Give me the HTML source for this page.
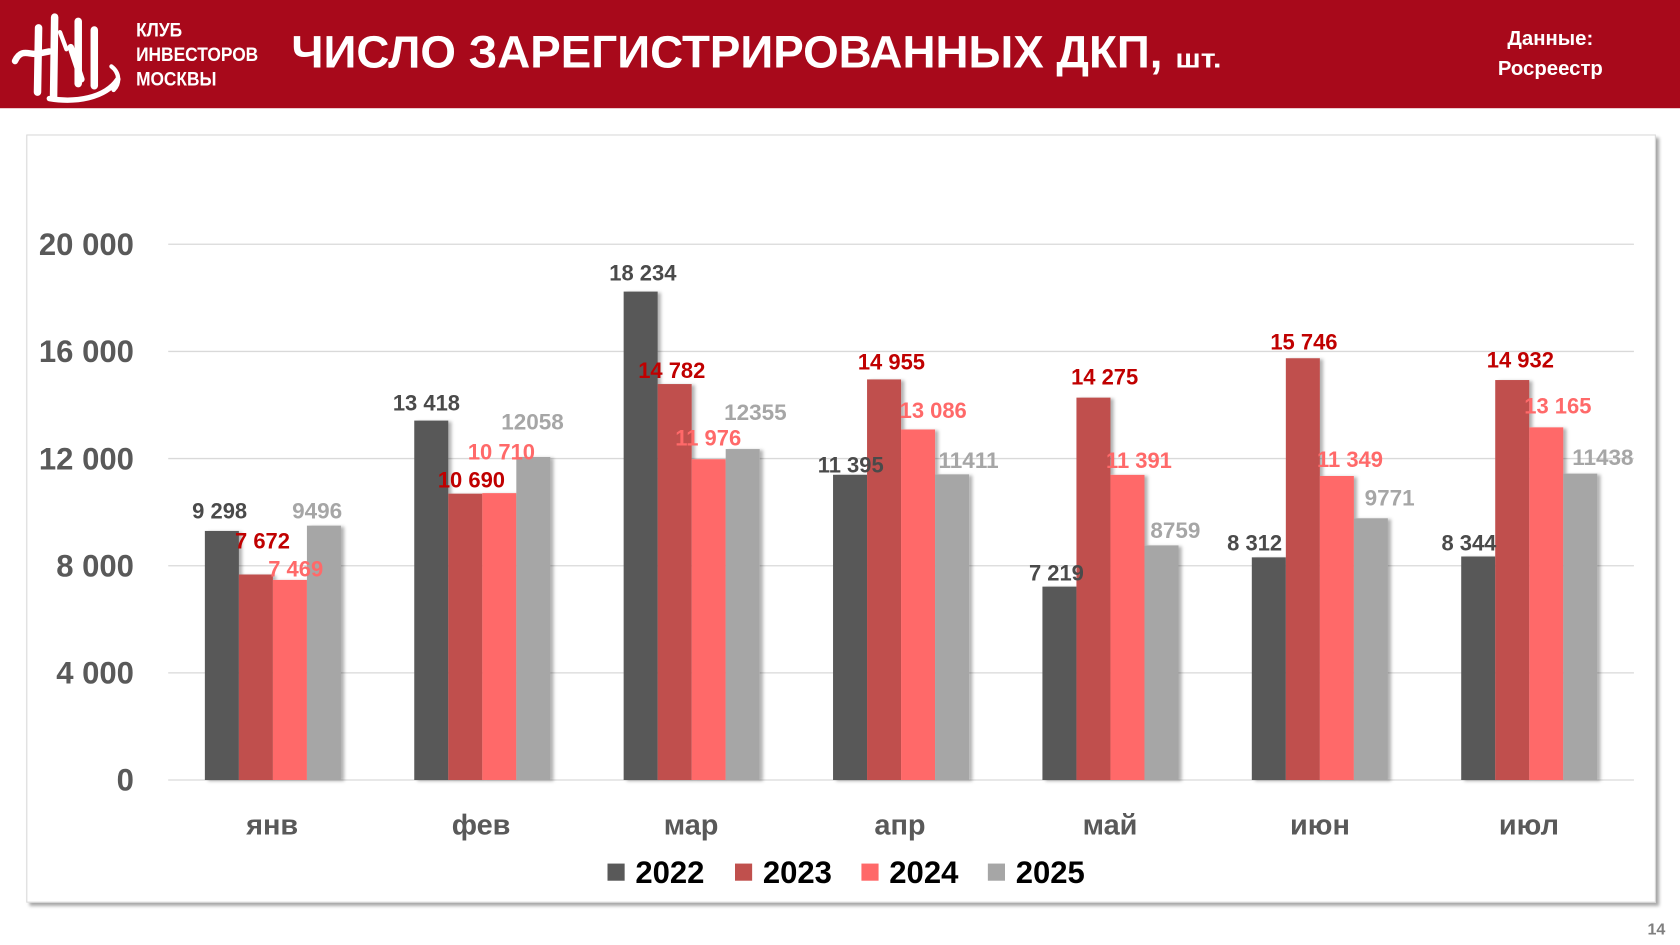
<!DOCTYPE html>
<html>
<head>
<meta charset="utf-8">
<style>
html,body{margin:0;padding:0;background:#fff;}
svg{display:block;}
text{font-family:"Liberation Sans","DejaVu Sans",sans-serif;}
</style>
</head>
<body>
<svg width="1680" height="945" viewBox="0 0 1568 882" preserveAspectRatio="none" xmlns="http://www.w3.org/2000/svg">
<defs>
  <filter id="sh" x="-20%" y="-5%" width="140%" height="110%">
    <feDropShadow dx="3" dy="1" stdDeviation="1.5" flood-color="#000" flood-opacity="0.3"/>
  </filter>
  <filter id="box" x="-2%" y="-2%" width="104%" height="104%">
    <feDropShadow dx="3" dy="3" stdDeviation="1.5" flood-color="#000" flood-opacity="0.35"/>
  </filter>
</defs>

<!-- header -->
<rect x="0" y="0" width="1568" height="101" fill="#A8091B"/>
<!-- logo (approximate monogram) -->
<g fill="none" stroke="#fff" stroke-linecap="round">
  <path d="M14 57 C20 44 28 52 36 50 L46 48" stroke-width="6"/>
  <path d="M36 26 L35 86" stroke-width="7"/>
  <path d="M51 16 L50 90" stroke-width="7"/>
  <path d="M56 30 L62 46" stroke-width="4"/>
  <path d="M66 44 L76 74" stroke-width="6"/>
  <path d="M73 20 L73 78" stroke-width="7"/>
  <path d="M88 28 L88 80" stroke-width="7"/>
  <path d="M46 92 C70 96 98 92 110 74" stroke-width="5"/>
  <path d="M104 62 C112 68 112 78 106 84" stroke-width="4"/>
</g>
<text x="127" y="34" font-size="18" font-weight="bold" fill="#fff" textLength="43" lengthAdjust="spacingAndGlyphs">КЛУБ</text>
<text x="127" y="57" font-size="18" font-weight="bold" fill="#fff" textLength="114" lengthAdjust="spacingAndGlyphs">ИНВЕСТОРОВ</text>
<text x="127" y="80" font-size="18" font-weight="bold" fill="#fff" textLength="75" lengthAdjust="spacingAndGlyphs">МОСКВЫ</text>
<text x="272" y="63" font-size="42" font-weight="bold" fill="#fff" textLength="813" lengthAdjust="spacingAndGlyphs">ЧИСЛО ЗАРЕГИСТРИРОВАННЫХ ДКП,</text>
<text x="1097" y="63" font-size="24" font-weight="bold" fill="#fff" textLength="43" lengthAdjust="spacingAndGlyphs">шт.</text>
<text x="1447" y="42" font-size="19" font-weight="bold" fill="#fff" text-anchor="middle">Данные:</text>
<text x="1447" y="70" font-size="19" font-weight="bold" fill="#fff" text-anchor="middle">Росреестр</text>

<!-- chart box -->
<rect x="25" y="126" width="1520" height="716" fill="#fff" stroke="#d9d9d9" stroke-width="1" filter="url(#box)"/>

<!-- gridlines -->
<g stroke="#d9d9d9" stroke-width="1.2">
  <line x1="157" y1="228" x2="1525" y2="228"/>
  <line x1="157" y1="328" x2="1525" y2="328"/>
  <line x1="157" y1="428" x2="1525" y2="428"/>
  <line x1="157" y1="528" x2="1525" y2="528"/>
  <line x1="157" y1="628" x2="1525" y2="628"/>
  <line x1="157" y1="728" x2="1525" y2="728"/>
</g>

<!-- y labels -->
<g font-size="29" font-weight="bold" fill="#595959" text-anchor="end">
  <text x="125" y="238">20 000</text>
  <text x="125" y="338">16 000</text>
  <text x="125" y="438">12 000</text>
  <text x="125" y="538">8 000</text>
  <text x="125" y="638">4 000</text>
  <text x="125" y="738">0</text>
</g>

<!-- bars -->
<g filter="url(#sh)">
  <!-- 2022 -->
  <g fill="#595959">
    <rect x="191.21" y="495.55" width="31.75" height="232.45"/>
    <rect x="386.64" y="392.55" width="31.75" height="335.45"/>
    <rect x="582.07" y="272.15" width="31.75" height="455.85"/>
    <rect x="777.5" y="443.12" width="31.75" height="284.88"/>
    <rect x="972.93" y="547.52" width="31.75" height="180.48"/>
    <rect x="1168.36" y="520.2" width="31.75" height="207.8"/>
    <rect x="1363.79" y="519.4" width="31.75" height="208.6"/>
  </g>
  <!-- 2023 -->
  <g fill="#C0504D">
    <rect x="222.96" y="536.2" width="31.75" height="191.8"/>
    <rect x="418.39" y="460.75" width="31.75" height="267.25"/>
    <rect x="613.82" y="358.45" width="31.75" height="369.55"/>
    <rect x="809.25" y="354.12" width="31.75" height="373.88"/>
    <rect x="1004.68" y="371.12" width="31.75" height="356.88"/>
    <rect x="1200.11" y="334.35" width="31.75" height="393.65"/>
    <rect x="1395.54" y="354.7" width="31.75" height="373.3"/>
  </g>
  <!-- 2024 -->
  <g fill="#FF6969">
    <rect x="254.71" y="541.27" width="31.75" height="186.73"/>
    <rect x="450.14" y="460.25" width="31.75" height="267.75"/>
    <rect x="645.57" y="428.6" width="31.75" height="299.4"/>
    <rect x="841.0" y="400.85" width="31.75" height="327.15"/>
    <rect x="1036.43" y="443.22" width="31.75" height="284.78"/>
    <rect x="1231.86" y="444.27" width="31.75" height="283.73"/>
    <rect x="1427.29" y="398.87" width="31.75" height="329.13"/>
  </g>
  <!-- 2025 -->
  <g fill="#A6A6A6">
    <rect x="286.46" y="490.6" width="31.75" height="237.4"/>
    <rect x="481.89" y="426.55" width="31.75" height="301.45"/>
    <rect x="677.32" y="419.12" width="31.75" height="308.88"/>
    <rect x="872.75" y="442.72" width="31.75" height="285.28"/>
    <rect x="1068.18" y="509.02" width="31.75" height="218.98"/>
    <rect x="1263.61" y="483.72" width="31.75" height="244.28"/>
    <rect x="1459.04" y="442.05" width="31.75" height="285.95"/>
  </g>
</g>

<!-- data labels -->
<g font-size="20.5" font-weight="bold" text-anchor="middle">
  <g fill="#4a4a4a">
    <text x="205" y="484">9 298</text>
    <text x="398" y="383">13 418</text>
    <text x="600" y="262">18 234</text>
    <text x="794" y="441">11 395</text>
    <text x="986" y="542">7 219</text>
    <text x="1171" y="514">8 312</text>
    <text x="1371" y="514">8 344</text>
  </g>
  <g fill="#C00000">
    <text x="245" y="512">7 672</text>
    <text x="440" y="455">10 690</text>
    <text x="627" y="353">14 782</text>
    <text x="832" y="345">14 955</text>
    <text x="1031" y="359">14 275</text>
    <text x="1217" y="326">15 746</text>
    <text x="1419" y="343">14 932</text>
  </g>
  <g fill="#FF6969">
    <text x="276" y="538">7 469</text>
    <text x="468" y="429">10 710</text>
    <text x="661" y="416">11 976</text>
    <text x="871" y="390">13 086</text>
    <text x="1063" y="437">11 391</text>
    <text x="1260" y="436">11 349</text>
    <text x="1454" y="386">13 165</text>
  </g>
  <g fill="#A6A6A6" font-size="21">
    <text x="296" y="484">9496</text>
    <text x="497" y="401">12058</text>
    <text x="705" y="392">12355</text>
    <text x="904" y="437">11411</text>
    <text x="1097" y="502">8759</text>
    <text x="1297" y="472">9771</text>
    <text x="1496" y="434">11438</text>
  </g>
</g>

<!-- category labels -->
<g font-size="27" font-weight="bold" fill="#595959" text-anchor="middle">
  <text x="254" y="779">янв</text>
  <text x="449" y="779">фев</text>
  <text x="645" y="779">мар</text>
  <text x="840" y="779">апр</text>
  <text x="1036" y="779">май</text>
  <text x="1232" y="779">июн</text>
  <text x="1427" y="779">июл</text>
</g>

<!-- legend -->
<rect x="567" y="806" width="16" height="16" fill="#595959"/>
<text x="593" y="824" font-size="29" font-weight="bold" fill="#000">2022</text>
<rect x="686" y="806" width="16" height="16" fill="#C0504D"/>
<text x="712" y="824" font-size="29" font-weight="bold" fill="#000">2023</text>
<rect x="804" y="806" width="16" height="16" fill="#FF6969"/>
<text x="830" y="824" font-size="29" font-weight="bold" fill="#000">2024</text>
<rect x="922" y="806" width="16" height="16" fill="#A6A6A6"/>
<text x="948" y="824" font-size="29" font-weight="bold" fill="#000">2025</text>

<!-- page number -->
<text x="1546" y="872" font-size="15" font-weight="bold" fill="#7f7f7f" text-anchor="middle">14</text>
</svg>
</body>
</html>
